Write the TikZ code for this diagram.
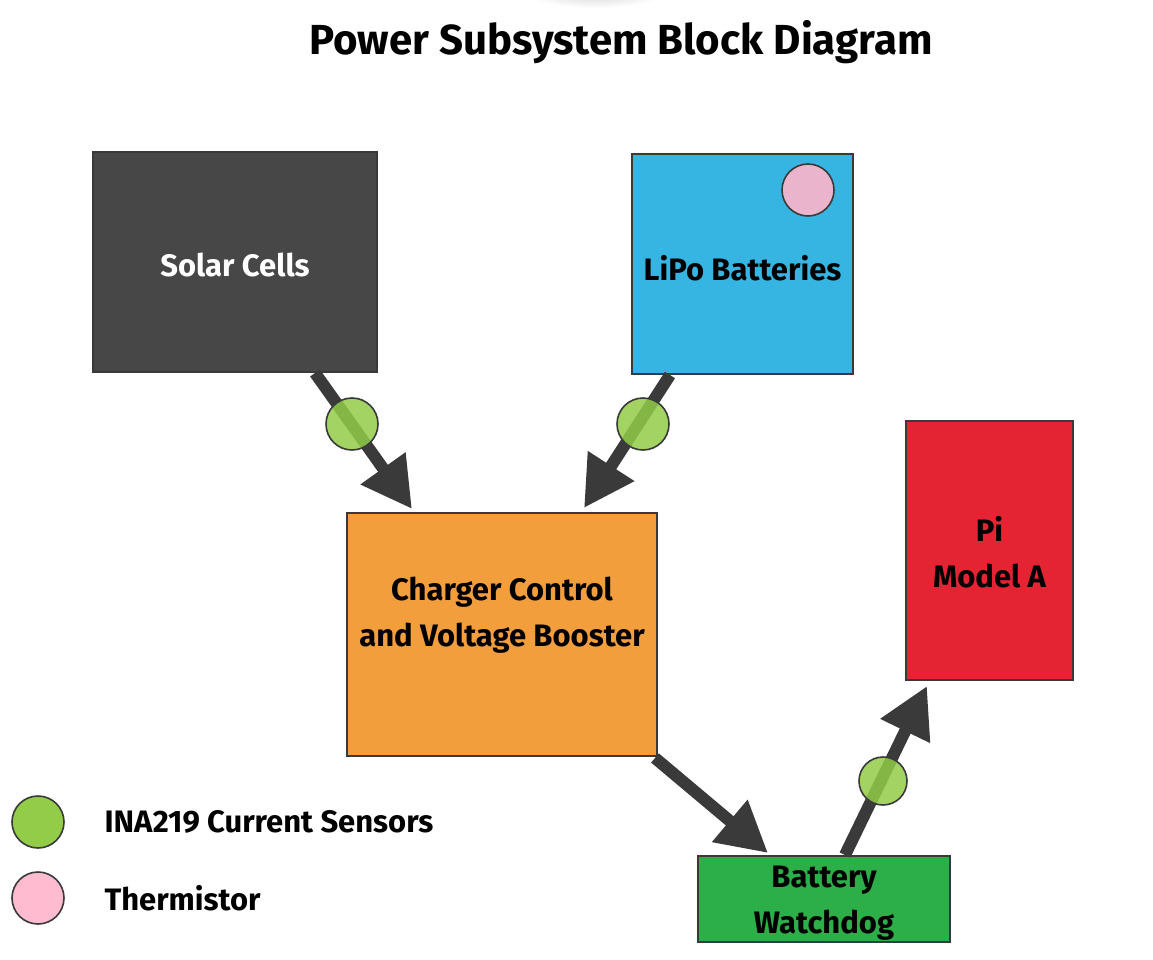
\documentclass[tikz,border=0pt]{standalone}
\usepackage{fontspec}
\setmainfont{Fira Sans}
\usetikzlibrary{arrows.meta}
\definecolor{solarc}{HTML}{474747}
\definecolor{lipoc}{HTML}{37B5E2}
\definecolor{pinkin}{HTML}{EBB4CD}
\definecolor{pinkleg}{HTML}{FFBCD1}
\definecolor{chargec}{HTML}{F39E3D}
\definecolor{pic}{HTML}{E52433}
\definecolor{wdc}{HTML}{2CAE48}
\definecolor{sensc}{HTML}{92CC48}
\definecolor{edgec}{HTML}{3A3A3A}
\tikzset{
  blockbox/.style={draw=edgec, line width=1.6pt, inner sep=0pt, align=center},
  blocktext/.style={align=center, font=\bfseries\fontsize{31}{46}\selectfont},
  flow/.style={draw=edgec, line width=12pt, -{Triangle[length=50pt,width=52pt]}},
  sensor/.style={circle, draw=edgec, line width=1.6pt, fill=sensc, fill opacity=0.85, draw opacity=1, minimum size=52pt, inner sep=0pt},
  legtext/.style={anchor=west, font=\bfseries\fontsize{31}{36}\selectfont},
}
\begin{document}
\begin{tikzpicture}[x=1pt,y=-1pt]
\useasboundingbox (0,0) rectangle (1153,960);
\fill[white] (0,0) rectangle (1153,960);
\shade[inner color=gray!35, outer color=white] (595,-8) ellipse (70pt and 16pt);
\node[font=\bfseries\fontsize{42}{50}\selectfont] (title) at (621,42) {Power Subsystem Block Diagram};

\node[blockbox, fill=solarc, minimum width=284pt, minimum height=220pt,
  label={[blocktext, text=white, yshift=-3pt]center:Solar Cells}] (solar) at (235,262) {};
\node[blockbox, fill=lipoc, minimum width=221pt, minimum height=220pt,
  label={[blocktext, yshift=-4pt]center:LiPo Batteries}] (lipo) at (742.5,264) {};
\node[circle, draw=edgec, line width=1.6pt, fill=pinkin, minimum size=52pt, inner sep=0pt] (therm) at (808,190) {};
\node[blockbox, fill=chargec, minimum width=310pt, minimum height=243pt,
  label={[blocktext, yshift=19pt]center:Charger Control\\and Voltage Booster}] (charger) at (502,634.5) {};
\node[blockbox, fill=pic, minimum width=167pt, minimum height=259pt,
  label={[blocktext, yshift=-2pt]center:Pi\\Model A}] (pi) at (989.5,550.5) {};
\node[blockbox, fill=wdc, minimum width=252pt, minimum height=86pt,
  label={[blocktext, yshift=-4pt]center:Battery\\Watchdog}] (wd) at (824,899) {};

\coordinate (a1s) at (315,373);
\coordinate (a1e) at (412,509);
\coordinate (a2s) at (670,375);
\coordinate (a2e) at (584,508);
\coordinate (a3s) at (655,758);
\coordinate (a3e) at (768,853);
\coordinate (a4s) at (845,855);
\coordinate (a4e) at (927,686);

\draw[flow] (a1s) -- (a1e);
\draw[flow] (a2s) -- (a2e);
\draw[flow] (a3s) -- (a3e);
\draw[flow] (a4s) -- (a4e);

\node[sensor] (s1) at (352,424) {};
\node[sensor] (s2) at (643,424) {};
\node[sensor, minimum size=48pt] (s3) at (883,781) {};

\node[circle, draw=edgec, line width=1.6pt, fill=sensc, minimum size=52pt, inner sep=0pt] (lg1) at (38,822) {};
\node[circle, draw=edgec, line width=1.6pt, fill=pinkleg, minimum size=52pt, inner sep=0pt] (lg2) at (38,898) {};
\node[legtext] (lt1) at (101,822) {INA219 Current Sensors};
\node[legtext] (lt2) at (101,898) {Thermistor};
\end{tikzpicture}
\end{document}
